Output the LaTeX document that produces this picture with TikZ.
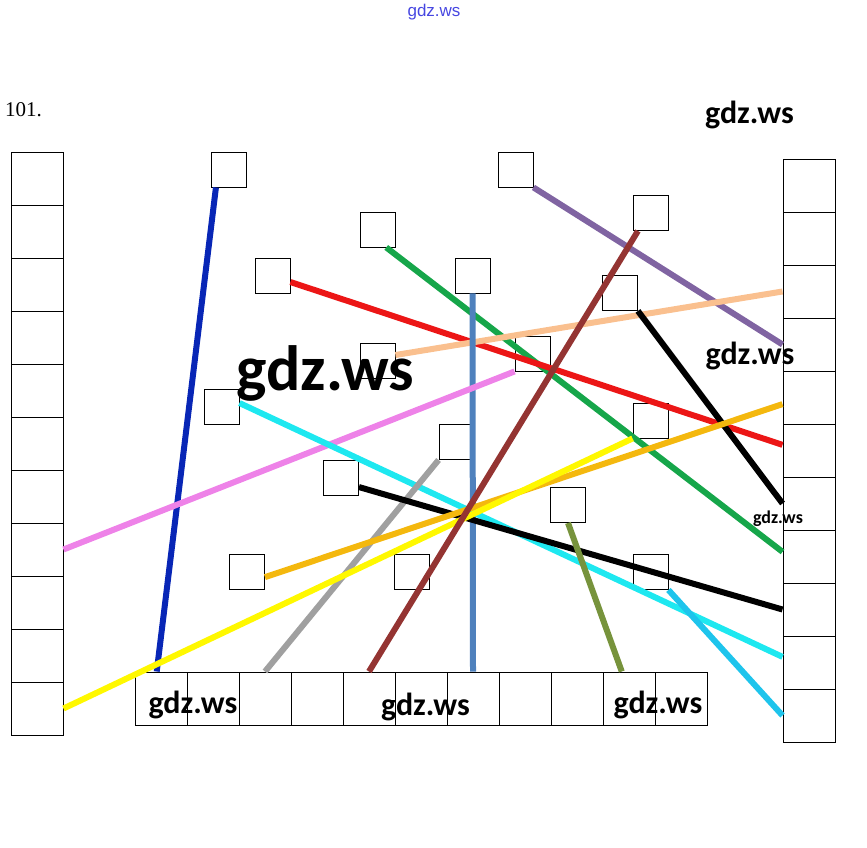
\documentclass[tikz,border=0pt]{standalone}
\usepackage{fontspec}
\setmainfont{Carlito}
\newfontfamily\numfont{Liberation Serif}
\newfontfamily\linkfont{Liberation Sans}
\definecolor{lnblue}{RGB}{8,38,182}
\definecolor{lngreen}{RGB}{22,166,74}
\definecolor{lnred}{RGB}{236,22,22}
\definecolor{lnsteel}{RGB}{79,129,189}
\definecolor{lnpurple}{RGB}{128,100,162}
\definecolor{lnbrown}{RGB}{148,52,50}
\definecolor{lnpeach}{RGB}{250,192,143}
\definecolor{lnpink}{RGB}{238,130,232}
\definecolor{lncyan}{RGB}{30,232,240}
\definecolor{lngray}{RGB}{160,160,160}
\definecolor{lnolive}{RGB}{119,147,60}
\definecolor{lnorange}{RGB}{244,184,14}
\definecolor{lnyellow}{RGB}{255,248,0}
\definecolor{lnsky}{RGB}{30,196,236}
\definecolor{linkblue}{RGB}{70,70,225}

\begin{document}
\begin{tikzpicture}[x=1pt,y=-1pt,cell/.style={draw,line width=1pt,minimum width=52pt,minimum height=53pt,inner sep=0pt},sq/.style={draw,line width=.9pt,minimum size=35pt,inner sep=0pt},ln/.style={line width=6pt},wm/.style={anchor=base,inner sep=0pt,font=\fontsize{#1}{#1}\selectfont\bfseries}]
\useasboundingbox(0,0)rectangle(867,848);
\foreach\i in{1,...,11}{\node[cell](l\i)at(37,{152+53*(\i-.5)}){};\node[cell](r\i)at(809,{159+53*(\i-.5)}){};\node[cell,minimum width=52pt](d\i)at({135+52*(\i-.5)},698.5){};}
\node[sq](s1)at(228.5,169.5){};\node[sq](s2)at(377.5,229.5){};\node[sq](s3)at(272.5,275.5){};\node[sq](s4)at(472.5,275.5){};\node[sq](s5)at(515.5,169.5){};\node[sq](s6)at(650.5,213){};
\node[sq](s7)at(620,293){};\node[sq](s8)at(377.5,360.5){};\node[sq](s9)at(532.5,353.5){};\node[sq](s10)at(221.5,406.5){};\node[sq](s11)at(650.5,420.5){};\node[sq](s12)at(456.5,442){};
\node[sq](s13)at(341,477.5){};\node[sq](s14)at(568,505){};\node[sq](s15)at(247,572){};\node[sq](s16)at(412,572){};\node[sq](s17)at(650.5,572){};
\draw[ln,lnblue](s1.-125)--(d1.99);\draw[ln,lnpurple](s5.south east)--(r4.west);\draw[ln,lngreen](s2.-64)--(r8.170);\draw[ln,lnred](s3.-20)--(r6.168);
\draw[ln,lnpeach](s8.17)--(r3.west);\draw[ln,lnsteel](s4.south)--(d7.north);\draw[ln,black](s7.south east)--(r7.west);\draw[ln,lnpink](s9.south west)--(l8.east);
\draw[ln,lncyan](s10.11)--(r10.168);\draw[ln,lngray](s12.south west)--(d3.north);\draw[ln,black](s13.-28)--(r9.west);\draw[ln,lnolive](s14.south)--(d10.105);
\draw[ln,lnsky](s17.south east)--(r11.west);\draw[ln,lnorange](s15.-16)--(r5.194);\draw[ln,lnyellow](l11.east)--(s11.south west);\draw[ln,lnbrown](s6.-125)--(d5.north);
\node[anchor=base,inner sep=0pt,font=\fontsize{21}{21}\selectfont\numfont](num)at(23.5,117){101.};\node[anchor=base,inner sep=0pt,font=\fontsize{17}{17}\selectfont\linkfont,text=linkblue](wtop)at(434,17){gdz.ws};
\node[wm=32](w1)at(749.5,124){gdz.ws};\node[wm=64](w2)at(325.5,390){gdz.ws};\node[wm=32](w3)at(750,364){gdz.ws};\node[wm=18](w4)at(778,523){gdz.ws};
\node[wm=32](w5)at(193,713){gdz.ws};\node[wm=32](w6)at(425.5,715){gdz.ws};\node[wm=32](w7)at(658,713){gdz.ws};
\end{tikzpicture}
\end{document}
